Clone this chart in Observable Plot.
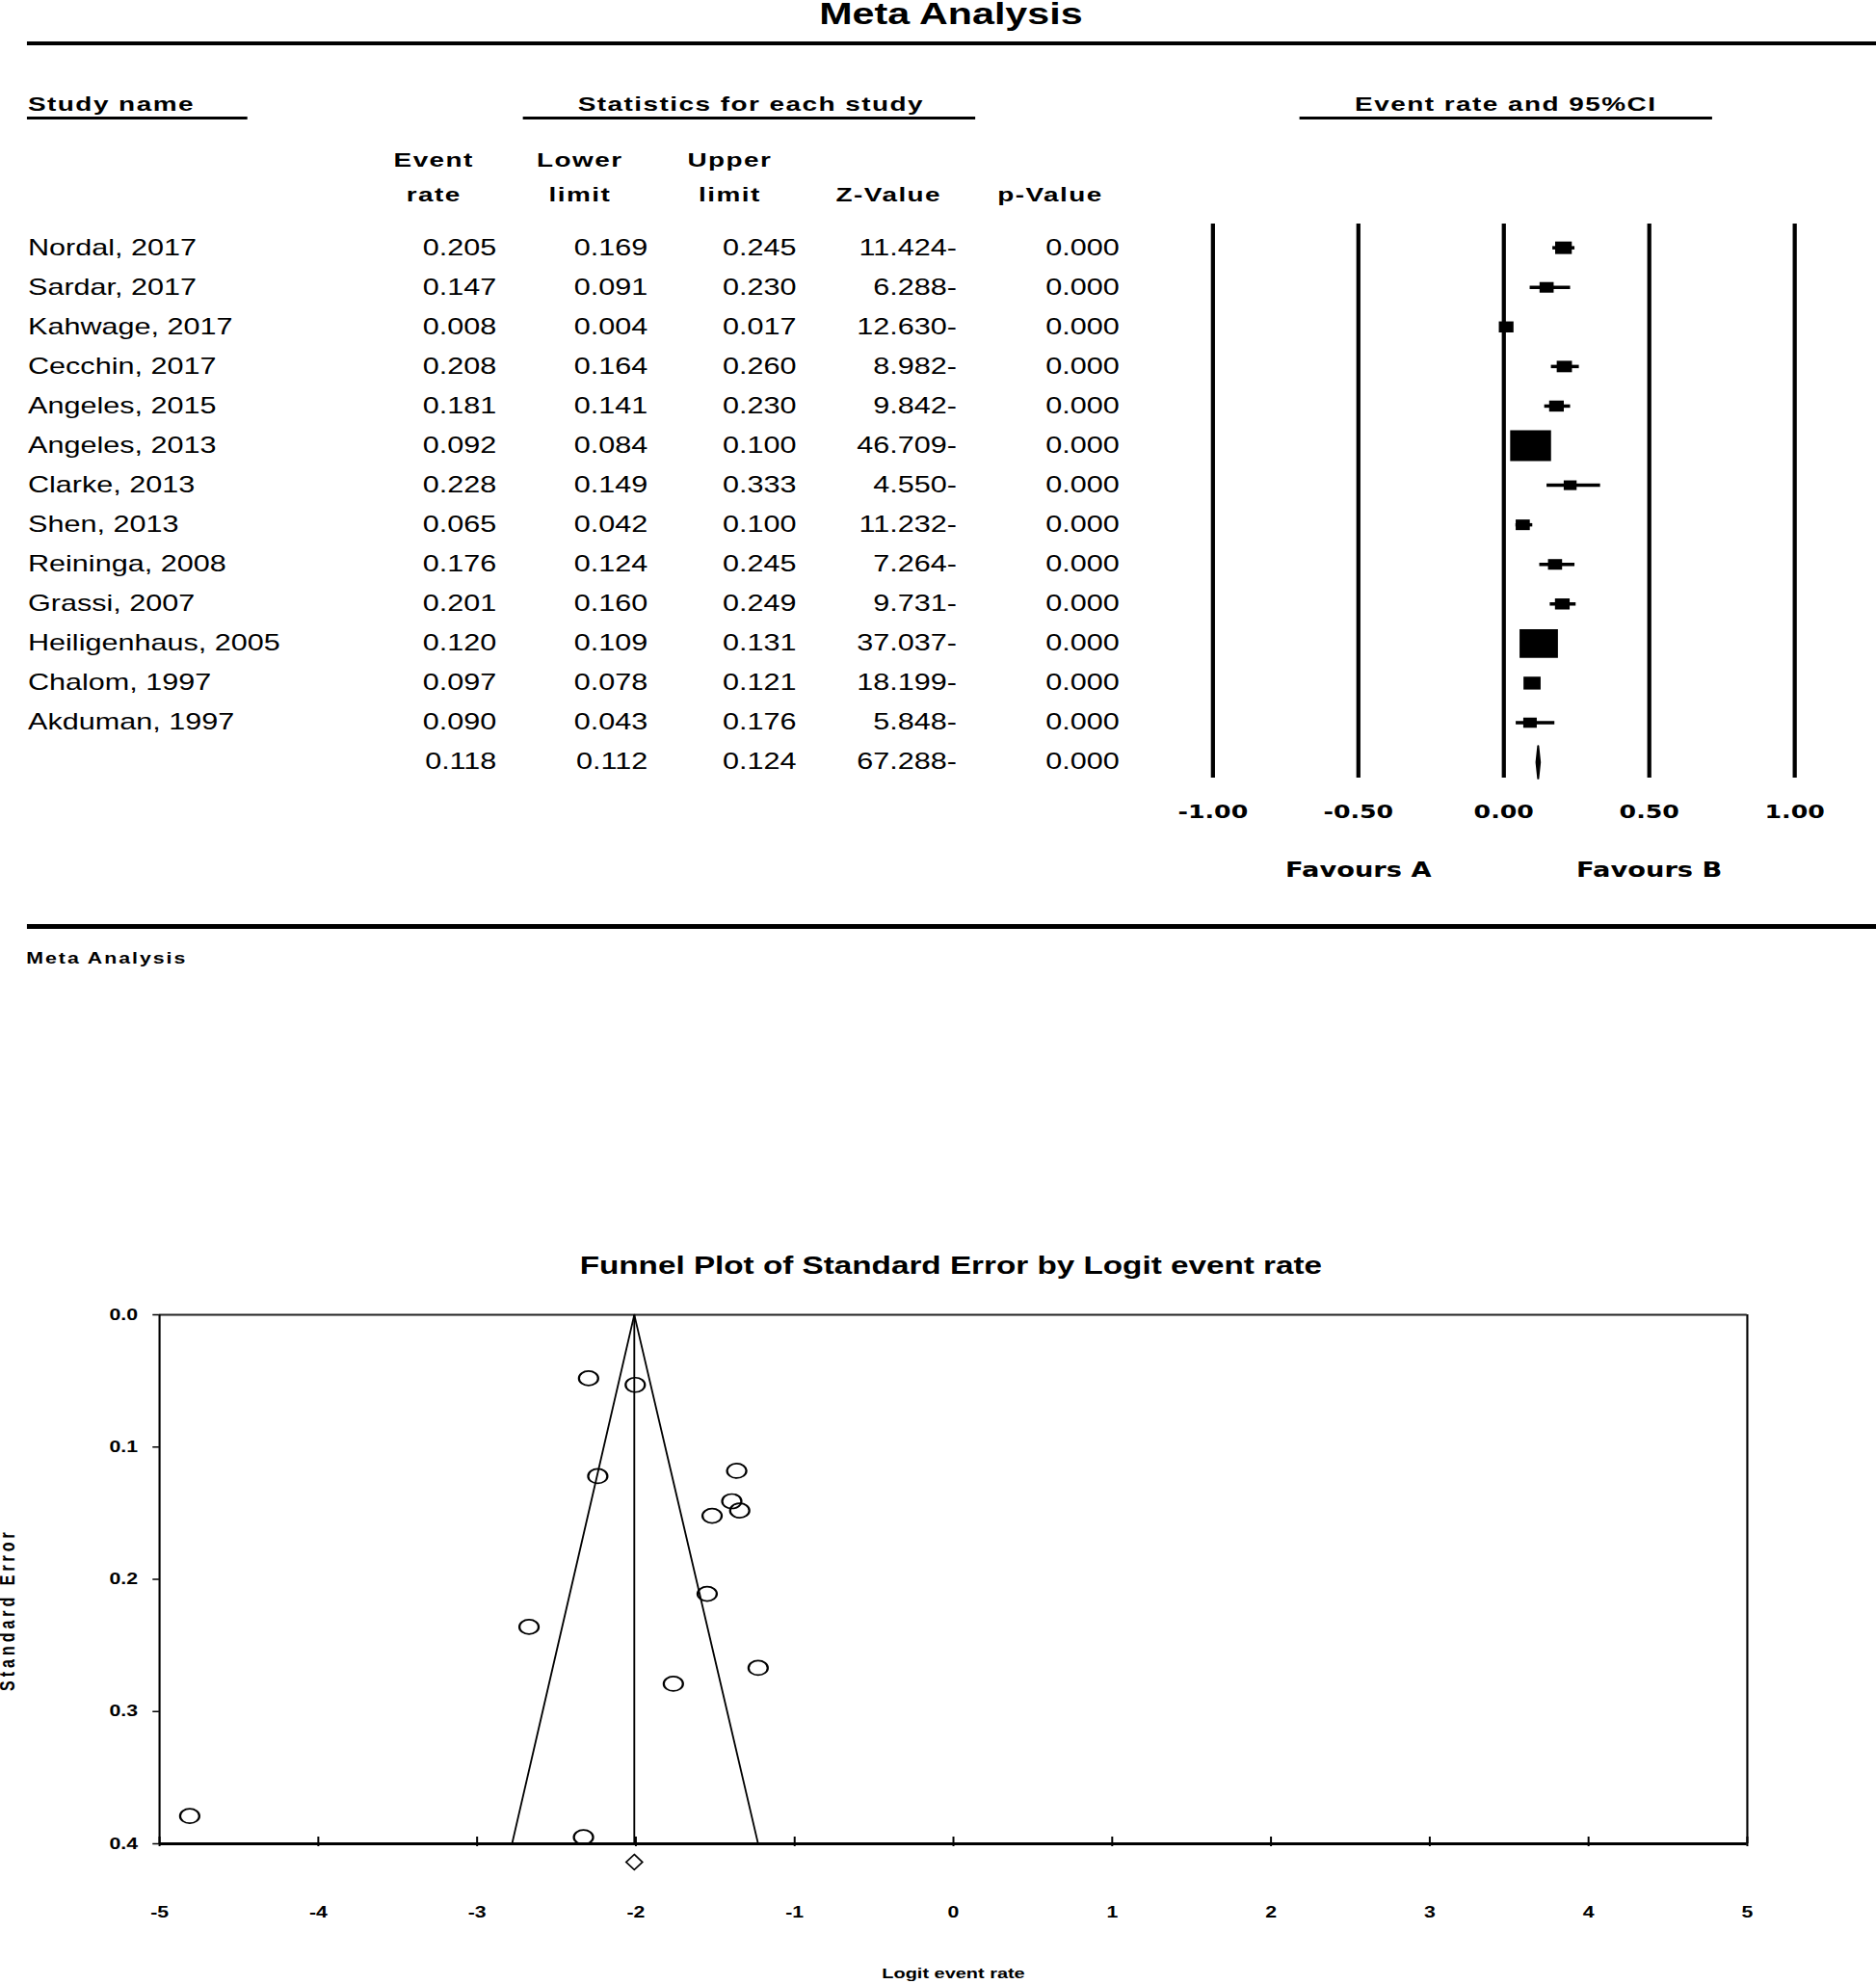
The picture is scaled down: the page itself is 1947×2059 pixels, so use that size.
<!DOCTYPE html>
<html><head><meta charset="utf-8">
<script src="https://cdn.jsdelivr.net/npm/d3@7"></script>
<script src="https://cdn.jsdelivr.net/npm/@observablehq/plot@0.6"></script>
<style>
html,body{margin:0;padding:0;background:#fff;overflow:hidden;}
#page{position:absolute;left:0;top:0;width:1464px;height:2059px;transform:scaleX(1.33);transform-origin:0 0;font-family:"Liberation Sans",Arial,Helvetica,sans-serif;color:#000;}
.t{position:absolute;white-space:nowrap;line-height:1;font-weight:bold;}
.c{transform:translateX(-50%);}
.rule{position:absolute;background:#000;}
.plot{position:absolute;}
.plot svg{max-width:none !important;display:block;}
</style></head><body><div id="page">
<div class="t c" style="left:742px;top:-1.2px;font-size:31px;">Meta Analysis</div>
<div class="rule" style="left:20.5px;top:42.5px;width:1443.5px;height:4.5px"></div>
<div class="t" style="left:21.8px;top:97.2px;font-size:21px;letter-spacing:1.1px">Study name</div>
<div class="rule" style="left:20.5px;top:121px;width:172.5px;height:2.8px"></div>
<div class="t c" style="left:586px;top:97.2px;font-size:21px;letter-spacing:1.1px">Statistics for each study</div>
<div class="rule" style="left:408px;top:121px;width:353px;height:2.8px"></div>
<div class="t c" style="left:1175px;top:97.2px;font-size:21px;letter-spacing:1.1px">Event rate and 95%CI</div>
<div class="rule" style="left:1013.5px;top:121px;width:322px;height:2.8px"></div>
<div id="table" class="plot" style="left:0;top:0;width:920px;height:830px"></div>
<div id="forest" class="plot" style="left:900px;top:0;width:564px;height:930px"></div>
<div class="rule" style="left:20.5px;top:958.5px;width:1443.5px;height:5px"></div>
<div class="t" style="left:20.5px;top:986.5px;font-size:16px;letter-spacing:1.5px">Meta Analysis</div>
<div id="funnel" class="plot" style="left:0;top:1300px;width:1464px;height:759px"></div>
<div class="t c" style="left:742px;top:1300.8px;font-size:25px;">Funnel Plot of Standard Error by Logit event rate</div>
</div>
<script>
// ---------- data ----------
const studies = ["Nordal, 2017","Sardar, 2017","Kahwage, 2017","Cecchin, 2017","Angeles, 2015","Angeles, 2013","Clarke, 2013","Shen, 2013","Reininga, 2008","Grassi, 2007","Heiligenhaus, 2005","Chalom, 1997","Akduman, 1997"];
const eventRate  = [0.205,0.147,0.008,0.208,0.181,0.092,0.228,0.065,0.176,0.201,0.120,0.097,0.090];
const lowerLimit = [0.169,0.091,0.004,0.164,0.141,0.084,0.149,0.042,0.124,0.160,0.109,0.078,0.043];
const upperLimit = [0.245,0.230,0.017,0.260,0.230,0.100,0.333,0.100,0.245,0.249,0.131,0.121,0.176];
const zValue     = [-11.424,-6.288,-12.630,-8.982,-9.842,-46.709,-4.550,-11.232,-7.264,-9.731,-37.037,-18.199,-5.848];
const pValue     = [0,0,0,0,0,0,0,0,0,0,0,0,0];
// relative weight (%)
const relWeight  = [5.0,3.6,3.9,4.2,3.9,30.2,3.0,3.6,3.6,3.9,26.6,5.3,3.3];
// summary: event rate, lower, upper, Z, p
const summaryRow = [0.118,0.112,0.124,-67.288,0];
const columnHeaders = ["Event\nrate","Lower\nlimit","Upper\nlimit","Z-Value","p-Value"];
const forestTicks = [-1,-0.5,0,0.5,1];
const favourLabels = ["Favours A","Favours B"];
const favourAt = [-0.5,0.5];

// funnel plot
const funnelLogit = [-1.365,-1.764,-4.81,-1.346,-1.520,-2.298,-1.230,-2.673,-1.551,-1.396,-2.004,-2.240,-2.33];
const funnelSE    = [0.118,0.279,0.379,0.148,0.152,0.048,0.267,0.236,0.211,0.141,0.053,0.122,0.395];
const summaryLogit = -2.01;
const funnelLimits = [-2.78,-1.23];   // logit limits at the largest SE
const funnelXTicks = [-5,-4,-3,-2,-1,0,1,2,3,4,5];
const funnelYTicks = [0,0.1,0.2,0.3,0.4];

// ---------- styles ----------
const SANS = "Liberation Sans, Arial, Helvetica, sans-serif";
const WIDE = "DejaVu Sans, Verdana, sans-serif";
const svgStyle = {background:"transparent", overflow:"visible", fontFamily:SANS, color:"black"};
const rowDomain = [-0.6, 13.4];

// ---------- table ----------
const rows = studies.map((name,i)=>({row:i, name, cells:[eventRate[i],lowerLimit[i],upperLimit[i],zValue[i],pValue[i]]}));
rows.push({row:studies.length, name:"", cells:summaryRow});
const fmtCell = (v,k)=> k===3 ? Math.abs(v).toFixed(3)+"-" : v.toFixed(3);
const colDx = [0,-3.5,-9,-5.5,0];          // fine alignment of each column's right edge
const headDx = [-49,-56.5,-61,-58.5,-54];  // header centre relative to column

const tablePlot = Plot.plot({
  width:920, height:830, marginTop:232, marginBottom:23, marginLeft:21.3, marginRight:0,
  x:{domain:[1,5], range:[387,873], axis:null},
  y:{domain:rowDomain, reverse:true, axis:null},
  style:svgStyle,
  marks:[
    Plot.text(rows,{frameAnchor:"left", y:"row", text:"name", textAnchor:"start", fontSize:23, fontFamily:SANS}),
    ...[0,1,2,3,4].map(k=>Plot.text(rows,{x:k+1, y:"row", dx:colDx[k], text:d=>fmtCell(d.cells[k],k), textAnchor:"end", fontSize:23, fontFamily:SANS})),
    ...[0,1,2,3,4].map(k=>Plot.text([columnHeaders[k]],{x:k+1, text:d=>d, frameAnchor:"top", lineAnchor:"bottom", dy:-24, dx:headDx[k], lineHeight:36/21, fontSize:21, fontWeight:"bold", fontFamily:SANS}))
  ]
});
tablePlot.querySelectorAll('g[font-weight="bold"] text').forEach(t=>t.setAttribute("letter-spacing","1.1"));
document.getElementById("table").appendChild(tablePlot);

// ---------- forest ----------
const forestRows = studies.map((s,i)=>({row:i, est:eventRate[i], lo:lowerLimit[i], hi:upperLimit[i], w:relWeight[i]}));
const sumRow = studies.length;
const diamondHalf = 0.415;
const diamond = [
  {x:summaryRow[1], y:sumRow},
  {x:summaryRow[0], y:sumRow-diamondHalf},
  {x:summaryRow[2], y:sumRow},
  {x:summaryRow[0], y:sumRow+diamondHalf},
  {x:summaryRow[1], y:sumRow}
];
const forestPlot = Plot.plot({
  width:564, height:930, marginLeft:46, marginRight:64, marginTop:232, marginBottom:123,
  x:{domain:[-1,1], axis:null},
  y:{domain:rowDomain, reverse:true, axis:null},
  r:{type:"sqrt", domain:[0, d3.max(relWeight)], range:[0,18]},
  style:svgStyle,
  marks:[
    Plot.ruleX(forestTicks,{stroke:"black", strokeWidth:3.2}),
    Plot.ruleY(forestRows,{y:"row", x1:"lo", x2:"hi", stroke:"black", strokeWidth:3.5}),
    Plot.dot(forestRows,{x:"est", y:"row", r:"w", symbol:"square", fill:"black", stroke:null}),
    Plot.line(diamond,{x:"x", y:"y", fill:"black", stroke:"black", strokeWidth:1.5}),
    Plot.text(forestTicks,{x:d=>d, text:d=>d.toFixed(2), frameAnchor:"bottom", dy:41.5, fontSize:19, fontWeight:"bold", fontFamily:WIDE}),
    Plot.text(favourLabels,{x:(d,i)=>favourAt[i], text:d=>d, frameAnchor:"bottom", dy:102, fontSize:20.5, fontWeight:"bold", fontFamily:WIDE})
  ]
});
document.getElementById("forest").appendChild(forestPlot);

// ---------- funnel ----------
const xDomain = [funnelXTicks[0], funnelXTicks[funnelXTicks.length-1]];
const seMax = funnelYTicks[funnelYTicks.length-1];
const funnelPts = funnelLogit.map((x,i)=>({x, se:funnelSE[i]}));
const funnelLine = [
  {x:funnelLimits[0], se:seMax},
  {x:summaryLogit, se:0},
  {x:funnelLimits[1], se:seMax}
];
const diamondSymbol = {draw(ctx,size){const h=Math.sqrt(size/1.6), w=0.8*h; ctx.moveTo(0,-h); ctx.lineTo(w,0); ctx.lineTo(0,h); ctx.lineTo(-w,0); ctx.closePath();}};

const funnelPlot = Plot.plot({
  width:1464, height:759, marginLeft:124, marginRight:101, marginTop:64, marginBottom:146,
  x:{domain:xDomain, axis:null},
  y:{domain:[0,seMax], reverse:true, axis:null},
  style:svgStyle,
  marks:[
    Plot.ruleY([0],{stroke:"#222", strokeWidth:1.8}),
    Plot.ruleX(xDomain,{stroke:"black", strokeWidth:1.6}),
    Plot.ruleY([seMax],{stroke:"black", strokeWidth:3}),
    Plot.ruleX(funnelXTicks,{y1:seMax, y2:seMax, insetTop:3, insetBottom:7, stroke:"black", strokeWidth:1.5}),
    Plot.ruleY(funnelYTicks,{x1:xDomain[0], x2:xDomain[0], insetLeft:-5, stroke:"black", strokeWidth:1.5}),
    Plot.ruleX([summaryLogit],{stroke:"black", strokeWidth:1.4}),
    Plot.line(funnelLine,{x:"x", y:"se", stroke:"black", strokeWidth:1.4}),
    Plot.dot(funnelPts,{x:"x", y:"se", r:7.5, stroke:"black", strokeWidth:1.7, fill:"none"}),
    Plot.dot([summaryLogit],{x:d=>d, frameAnchor:"bottom", dy:19, symbol:diamondSymbol, r:5.7, stroke:"black", strokeWidth:1.4, fill:"white"}),
    Plot.text(funnelYTicks,{y:d=>d, text:d=>d.toFixed(1), frameAnchor:"left", textAnchor:"end", dx:-17, fontSize:16, fontWeight:"bold", fontFamily:SANS}),
    Plot.text(funnelXTicks,{x:d=>d, text:d=>String(d), frameAnchor:"bottom", dy:76, fontSize:16, fontWeight:"bold", fontFamily:SANS}),
    Plot.text(["Logit event rate"],{text:d=>d, frameAnchor:"bottom", dy:139, fontSize:15, fontWeight:"bold", fontFamily:SANS}),
    Plot.text(["Standard Error"],{text:d=>d, frameAnchor:"left", rotate:-90, textAnchor:"start", dx:-118, dy:116, fontSize:16, fontWeight:"bold", fontFamily:SANS})
  ]
});
funnelPlot.querySelectorAll("text").forEach(t=>{ if (t.textContent==="Standard Error") t.setAttribute("letter-spacing","4"); });
document.getElementById("funnel").appendChild(funnelPlot);
</script>
</body></html>
